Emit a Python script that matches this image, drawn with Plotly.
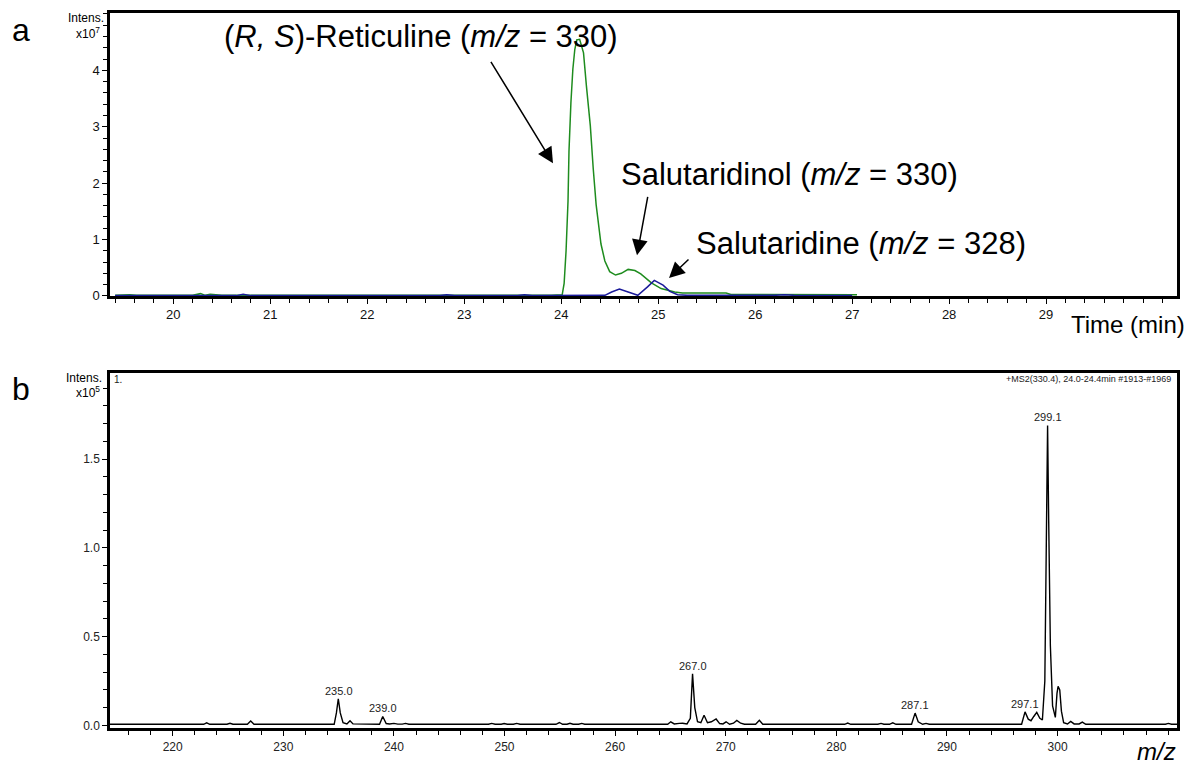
import plotly.graph_objects as go

W, H = 1189, 771
FONT = "Liberation Sans, Arial, Helvetica, sans-serif"

# ---------------- (a) Extracted ion chromatogram, intensity x10^7 ----------------
ret_time = [19.40, 19.55, 19.62, 20.20, 20.28, 20.33, 20.38, 20.50, 23.90, 24.01,
            24.03, 24.05, 24.07, 24.08, 24.10, 24.12, 24.14, 24.16, 24.19, 24.20,
            24.23, 24.26, 24.30, 24.33, 24.36, 24.41, 24.45, 24.50, 24.56, 24.62,
            24.69, 24.76, 24.82, 24.93, 25.03, 25.17, 25.25, 25.70, 25.75, 27.05]
ret_int = [0.01, 0.02, 0.01, 0.01, 0.04, 0.01, 0.03, 0.01, 0.01, 0.02,
           0.22, 0.80, 1.68, 2.56, 3.43, 4.02, 4.37, 4.54, 4.55, 4.49,
           4.31, 3.72, 3.02, 2.26, 1.62, 0.92, 0.62, 0.43, 0.37, 0.40,
           0.47, 0.45, 0.39, 0.23, 0.13, 0.07, 0.05, 0.05, 0.025, 0.02]

sal_time = [19.40, 20.65, 20.72, 20.80, 22.75, 22.82, 22.90, 23.55, 23.62, 23.70,
            24.45, 24.52, 24.60, 24.69, 24.79, 24.89, 24.96, 25.05, 25.12, 25.20,
            25.30, 26.20, 26.30, 26.40, 27.00]
sal_int = [0.005, 0.005, 0.03, 0.005, 0.005, 0.02, 0.005, 0.005, 0.02, 0.005,
           0.01, 0.07, 0.12, 0.07, 0.01, 0.16, 0.275, 0.19, 0.08, 0.02,
           0.01, 0.01, 0.02, 0.01, 0.005]

time_ticks = [20, 21, 22, 23, 24, 25, 26, 27, 28, 29]
a_y_ticks = [0, 1, 2, 3, 4]

# ---------------- (b) MS2 spectrum, intensity x10^5 ----------------
ms_mz = [214.3,
         222.8, 223.07, 223.35, 224.9, 225.18, 225.45, 226.75, 227.05, 227.35,
         234.6, 234.8, 234.97, 235.15, 235.4, 235.75, 236.03, 236.3,
         238.7, 238.99, 239.3, 239.6, 240.0, 240.35, 240.75, 241.05, 241.35,
         248.55, 248.84, 249.15, 249.7, 249.96, 250.25, 250.8, 251.1, 251.4,
         254.65, 254.96, 255.25, 255.65, 255.92, 256.2, 256.7, 256.98, 257.25,
         264.75, 265.03, 265.35, 265.8, 266.1, 266.5, 266.8, 267.0, 267.2, 267.45,
         267.75, 268.04, 268.35, 268.7, 269.13, 269.45, 269.75, 270.03, 270.35, 270.7,
         271.0, 271.35, 271.7, 272.7, 273.04, 273.35,
         280.75, 281.03, 281.3, 283.75, 284.04, 284.3, 284.8, 285.1, 285.4,
         286.8, 287.12, 287.4, 287.8, 288.11, 288.4,
         296.75, 297.06, 297.35, 297.6, 297.85, 298.12, 298.4, 298.63, 298.85, 299.0,
         299.1, 299.2, 299.35, 299.55, 299.8, 299.95, 300.05, 300.2, 300.35, 300.55,
         300.9, 301.19, 301.5, 301.95, 302.24, 302.55,
         309.75, 310.02, 310.3, 310.8]
ms_int = [0.006,
          0.006, 0.014, 0.006, 0.006, 0.012, 0.006, 0.006, 0.024, 0.006,
          0.006, 0.07, 0.15, 0.07, 0.015, 0.008, 0.026, 0.008,
          0.006, 0.05, 0.01, 0.008, 0.011, 0.007, 0.007, 0.011, 0.006,
          0.006, 0.011, 0.006, 0.006, 0.01, 0.006, 0.006, 0.011, 0.006,
          0.006, 0.016, 0.006, 0.006, 0.012, 0.006, 0.006, 0.011, 0.006,
          0.006, 0.02, 0.008, 0.011, 0.012, 0.008, 0.04, 0.29, 0.10, 0.02,
          0.015, 0.057, 0.015, 0.02, 0.036, 0.01, 0.008, 0.02, 0.006, 0.012,
          0.028, 0.012, 0.006, 0.006, 0.028, 0.006,
          0.006, 0.013, 0.006, 0.006, 0.011, 0.006, 0.006, 0.014, 0.006,
          0.006, 0.069, 0.02, 0.006, 0.011, 0.006,
          0.006, 0.076, 0.035, 0.026, 0.05, 0.073, 0.04, 0.03, 0.25, 1.20,
          1.69, 1.15, 0.45, 0.11, 0.045, 0.18, 0.22, 0.20, 0.08, 0.015,
          0.008, 0.022, 0.008, 0.008, 0.018, 0.006,
          0.006, 0.011, 0.006, 0.006]
assert len(ms_mz) == len(ms_int)

label_mz = [235.0, 239.0, 267.0, 287.1, 297.1, 299.1]
label_int = [0.15, 0.05, 0.29, 0.069, 0.076, 1.69]

mz_ticks = [220, 230, 240, 250, 260, 270, 280, 290, 300]
b_y_ticks = [0.0, 0.5, 1.0, 1.5]


def px(x):
    return x / W


def py(y):
    return 1 - y / H


fig = go.Figure()
fig.add_trace(go.Scatter(x=ret_time, y=ret_int, mode="lines",
                         line=dict(color="#1e8c1e", width=1.5),
                         xaxis="x", yaxis="y", showlegend=False))
fig.add_trace(go.Scatter(x=sal_time, y=sal_int, mode="lines",
                         line=dict(color="#1a1a9a", width=1.5),
                         xaxis="x", yaxis="y", showlegend=False))
fig.add_trace(go.Scatter(x=ms_mz, y=ms_int, mode="lines",
                         line=dict(color="black", width=1.4),
                         xaxis="x2", yaxis="y2", showlegend=False))

axis_common = dict(showline=True, linecolor="black", linewidth=2.5, mirror=True,
                   showgrid=False, zeroline=False, ticks="outside",
                   tickcolor="black", ticklen=5, tickwidth=1.2)

xdom = [px(110), px(1177)]

fig.update_layout(
    width=W, height=H,
    margin=dict(l=0, r=0, t=0, b=0),
    paper_bgcolor="white", plot_bgcolor="white",
    font=dict(family=FONT, color="black"),
    xaxis=dict(domain=xdom, anchor="y", range=[19.347, 30.35],
               tickmode="array", tickvals=time_ticks,
               ticktext=[str(t) for t in time_ticks],
               tickfont=dict(size=13, color="#111"),
               minor=dict(dtick=0.2, tick0=20, ticks="outside", ticklen=4,
                          tickwidth=1, tickcolor="black", showgrid=False),
               **axis_common),
    yaxis=dict(domain=[py(299), py(13)], anchor="x", range=[0, 5.02],
               tickmode="array", tickvals=a_y_ticks,
               ticktext=[str(t) for t in a_y_ticks],
               tickfont=dict(size=13, color="#111"),
               minor=dict(dtick=0.2, tick0=0, ticks="outside", ticklen=4,
                          tickwidth=1.2, tickcolor="black", showgrid=False),
               **axis_common),
    xaxis2=dict(domain=xdom, anchor="y2", range=[214.33, 310.8],
                tickmode="array", tickvals=mz_ticks,
                ticktext=[str(t) for t in mz_ticks],
                tickfont=dict(size=12, color="#222"),
                minor=dict(dtick=2, tick0=220, ticks="outside", ticklen=4,
                           tickwidth=1, tickcolor="black", showgrid=False),
                **axis_common),
    yaxis2=dict(domain=[py(736), py(377)], anchor="x2", range=[-0.017, 1.985],
                tickmode="array", tickvals=b_y_ticks,
                ticktext=["%.1f" % t for t in b_y_ticks],
                tickfont=dict(size=12, color="#222"),
                minor=dict(dtick=0.1, tick0=0, ticks="outside", ticklen=4,
                           tickwidth=1.2, tickcolor="black", showgrid=False),
                **axis_common),
)

ann = []


def text(x, y, s, size, xanchor="center", color="black"):
    ann.append(dict(x=px(x), y=py(y), xref="paper", yref="paper", text=s,
                    showarrow=False, xanchor=xanchor, yanchor="middle",
                    font=dict(size=size, family=FONT, color=color)))


def arrow(hx, hy, tx, ty):
    ann.append(dict(x=px(hx), y=py(hy), xref="paper", yref="paper", text="",
                    showarrow=True, axref="pixel", ayref="pixel",
                    ax=tx - hx, ay=ty - hy, arrowhead=2, arrowsize=2.1,
                    arrowwidth=1.5, arrowcolor="black", standoff=0))


# panel letters
text(20.5, 30, "a", 32)
text(21, 393, "b", 32)
# intensity labels
text(106, 18, "Intens.", 12, xanchor="right")
text(102, 33, "x10<sup>7</sup>", 12, xanchor="right")
text(104, 382, "Intens.", 12, xanchor="right")
text(102, 396, "x10<sup>5</sup>", 12, xanchor="right")
# compound labels
text(222, 37, "(<i>R, S</i>)-Reticuline (<i>m/z</i> = 330)", 31, xanchor="left")
text(619, 176, "Salutaridinol (<i>m/z</i> = 330)", 31, xanchor="left")
text(694, 246, "Salutaridine (<i>m/z</i> = 328)", 31, xanchor="left")
arrow(553, 165, 490, 62)
arrow(637, 258, 648, 198)
arrow(669, 281, 690, 261)
# axis titles
text(1187, 328, "Time (min)", 24, xanchor="right")
text(1178, 759, "<i>m/z</i>", 24, xanchor="right")
# spectrum header
text(112, 383, "1.", 10, xanchor="left", color="#222")
text(1173, 383, "+MS2(330.4), 24.0-24.4min #1913-#1969", 9, xanchor="right", color="#222")

# peak labels
for m, v in zip(label_mz, label_int):
    ann.append(dict(x=m, y=v, xref="x2", yref="y2", text="%.1f" % m,
                    showarrow=False, xanchor="center", yanchor="bottom", yshift=0,
                    font=dict(size=11, family=FONT, color="#222")))

fig.update_layout(annotations=ann)
fig.write_html("out.html")
